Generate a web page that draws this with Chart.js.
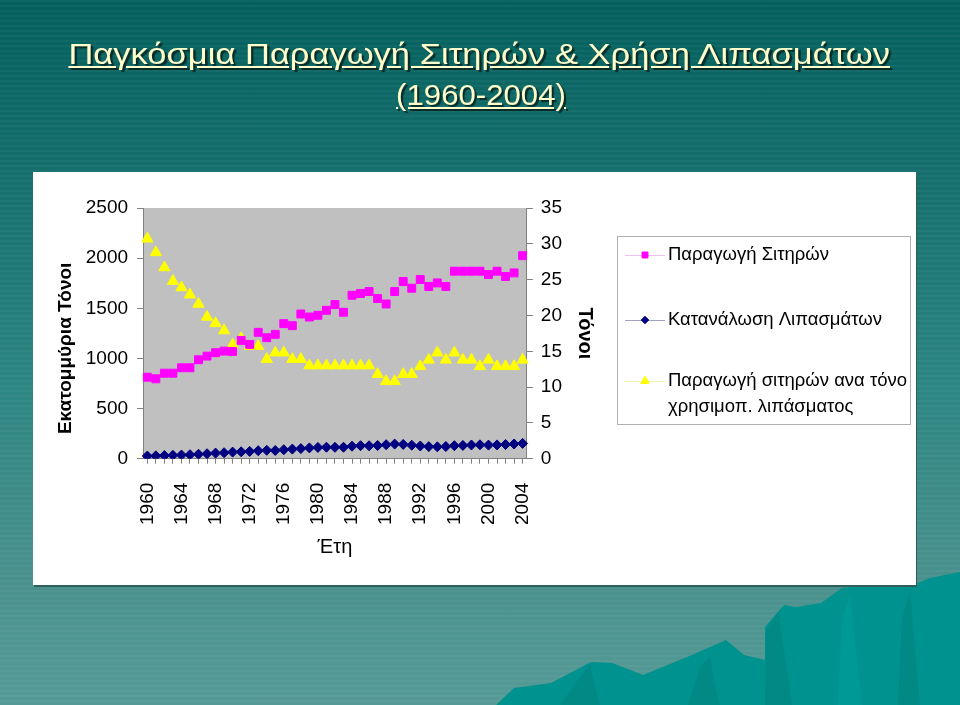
<!DOCTYPE html>
<html>
<head>
<meta charset="utf-8">
<script src="https://cdn.jsdelivr.net/npm/chart.js@4"></script>
<style>
  html, body { margin: 0; padding: 0; }
  body {
    width: 960px; height: 705px; position: relative; overflow: hidden;
    background:
      repeating-linear-gradient(180deg, rgba(255,255,255,0.035) 0px, rgba(255,255,255,0.035) 2px, rgba(0,0,0,0) 2px, rgba(0,0,0,0) 5px),
      linear-gradient(180deg, #03605d 0%, #166f6d 25%, #2d8683 55%, #4a918d 82%, #559a96 100%);
    font-family: "Liberation Sans", Arial, sans-serif;
  }
  .title {
    position: absolute; left: 0; top: 34px; width: 960px; text-align: center;
    color: #ffffcc; font-size: 29px; line-height: 41px;
  }
  .title span {
    display: inline-block; text-decoration: underline;
    text-shadow: 2px 2px 1px #0a2a28;
  }
  .hills { position: absolute; left: 0; top: 0; }
  .panel {
    position: absolute; left: 33px; top: 172px; width: 883px; height: 413px; background: #ffffff;
    box-shadow: 1px 2px 0 #2e5f5c;
  }
</style>
</head>
<body>
<svg class="hills" width="960" height="705">
  <polygon fill="#00928e" points="496,705 514,688 551,683 591,662 612,663 643,675 692,655 726,640 744,655 765,660 765,627 784,605 796,607 821,603 842,588 870,585 918,583 930,578 960,572 960,705"/>
  <polygon fill="#008985" points="560,705 575,684 590,664 596,690 600,705"/>
  <polygon fill="#008985" points="688,705 700,668 710,656 714,684 720,705"/>
  <polygon fill="#008985" points="765,705 766,630 778,612 784,650 792,705"/>
  <polygon fill="#009a96" points="838,705 842,620 850,596 856,650 862,705"/>
  <polygon fill="#008985" points="898,705 902,620 910,588 914,640 920,705"/>
</svg>
<div class="title">
  <div><span style="transform: scaleX(1.19); margin-left: -1px;">Παγκόσμια Παραγωγή Σιτηρών &amp; Χρήση Λιπασμάτων</span></div>
  <div><span style="transform: scaleX(1.075); margin-left: 2px;">(1960-2004)</span></div>
</div>
<div class="panel"><canvas id="chart" width="883" height="413"></canvas></div>
<script>
// years on the category axis
const years = ['1960','1961','1962','1963','1964','1965','1966','1967','1968','1969',
  '1970','1971','1972','1973','1974','1975','1976','1977','1978','1979',
  '1980','1981','1982','1983','1984','1985','1986','1987','1988','1989',
  '1990','1991','1992','1993','1994','1995','1996','1997','1998','1999',
  '2000','2001','2002','2003','2004'];

// grain production, million tonnes (left axis)
const grainProduction = [813, 797, 853, 853, 907, 907, 987, 1023, 1057, 1073,
  1070, 1180, 1140, 1260, 1207, 1240, 1347, 1327, 1443, 1413,
  1430, 1480, 1537, 1460, 1630, 1647, 1667, 1597, 1543, 1667,
  1767, 1700, 1787, 1717, 1753, 1717, 1870, 1870, 1870, 1870,
  1837, 1870, 1817, 1853, 2025];

// fertilizer use, million tonnes (left axis)
const fertilizerUse = [27, 29, 31, 34, 37, 40, 45, 50, 56, 60,
  66, 69, 73, 80, 84, 82, 90, 96, 101, 108,
  113, 115, 114, 115, 125, 130, 129, 132, 140, 146,
  143, 135, 127, 121, 119, 122, 130, 133, 137, 139,
  136, 138, 142, 147, 153];

// grain per tonne of fertilizer, tonnes (right axis)
const grainPerFertilizer = [30.7, 28.8, 26.7, 24.8, 23.9, 22.9, 21.6, 19.8, 18.9, 17.9,
  15.9, 16.8, 15.7, 15.7, 13.9, 14.8, 14.8, 13.9, 13.9, 13.0,
  13.0, 13.0, 13.0, 13.0, 13.0, 13.0, 13.0, 11.8, 10.8, 10.8,
  11.8, 11.8, 12.9, 13.8, 14.8, 13.8, 14.8, 13.8, 13.8, 12.9,
  13.8, 12.9, 12.9, 12.9, 13.8];

const seriesNames = ['Παραγωγή Σιτηρών', 'Κατανάλωση Λιπασμάτων',
  ['Παραγωγή σιτηρών ανα τόνο', 'χρησιμοπ. λιπάσματος']];
const leftTitle = 'Εκατομμύρια Τόνοι';

const FONT = '"Liberation Sans", Arial, sans-serif';

// grey plot background
const plotBg = {
  id: 'plotBg',
  beforeDraw(chart) {
    const a = chart.chartArea, ctx = chart.ctx;
    ctx.save();
    ctx.fillStyle = '#c0c0c0';
    ctx.fillRect(a.left, a.top, a.right - a.left, a.bottom - a.top);
    ctx.restore();
  }
};

// left axis title sits a bit below the middle of the axis, like excel did it
const leftAxisTitle = {
  id: 'leftAxisTitle',
  afterDraw(chart) {
    const a = chart.chartArea, ctx = chart.ctx;
    ctx.save();
    ctx.translate(33, (a.top + a.bottom) / 2 + 15);
    ctx.rotate(-Math.PI / 2);
    ctx.fillStyle = '#000000';
    ctx.font = 'bold 19px ' + FONT;
    ctx.textAlign = 'center';
    ctx.textBaseline = 'middle';
    ctx.fillText(leftTitle, 0, 0);
    ctx.restore();
  }
};

// excel style legend box on the right
const boxLegend = {
  id: 'boxLegend',
  afterDraw(chart) {
    const ctx = chart.ctx;
    const x0 = 584, y0 = 64, w = 293, h = 188;
    ctx.save();
    ctx.fillStyle = '#ffffff';
    ctx.strokeStyle = '#b0b0b0';
    ctx.lineWidth = 1;
    ctx.fillRect(x0, y0, w, h);
    ctx.strokeRect(x0 + 0.5, y0 + 0.5, w, h);
    const rows = [83, 148, 209];
    chart.data.datasets.forEach((ds, i) => {
      const y = rows[i];
      ctx.strokeStyle = ds.legendLine;
      ctx.lineWidth = 1;
      ctx.beginPath();
      ctx.moveTo(x0 + 8, y + 0.5);
      ctx.lineTo(x0 + 48, y + 0.5);
      ctx.stroke();
      ctx.fillStyle = ds.backgroundColor;
      ctx.strokeStyle = ds.borderColor;
      Chart.helpers.drawPoint(ctx, {
        pointStyle: ds.pointStyle, radius: ds.pointRadius * 0.75, borderWidth: 1
      }, x0 + 28, y);
      ctx.fillStyle = '#000000';
      ctx.font = '18.5px ' + FONT;
      ctx.textBaseline = 'middle';
      const lines = Array.isArray(ds.label) ? ds.label : [ds.label];
      lines.forEach((t, k) => ctx.fillText(t, x0 + 51, y + k * 26));
    });
    ctx.restore();
  }
};

new Chart(document.getElementById('chart').getContext('2d'), {
  type: 'line',
  data: {
    labels: years,
    datasets: [{
      label: seriesNames[0],
      data: grainProduction,
      yAxisID: 'y',
      showLine: false,
      pointStyle: 'rect',
      pointRadius: 5.6,
      backgroundColor: '#ff00ff',
      borderColor: '#ff00ff',
      borderWidth: 1,
      legendLine: '#f0c0f0'
    }, {
      label: seriesNames[1],
      data: fertilizerUse,
      yAxisID: 'y',
      showLine: false,
      pointStyle: 'rectRot',
      pointRadius: 5,
      backgroundColor: '#000080',
      borderColor: '#000080',
      borderWidth: 1,
      legendLine: '#a0a0c8'
    }, {
      label: seriesNames[2],
      data: grainPerFertilizer,
      yAxisID: 'y1',
      showLine: false,
      pointStyle: 'triangle',
      pointRadius: 6.5,
      backgroundColor: '#ffff00',
      borderColor: '#ffff00',
      borderWidth: 1,
      legendLine: '#f0f0b0'
    }]
  },
  options: {
    responsive: false,
    animation: false,
    layout: { padding: { left: 21, right: 308, top: 36, bottom: 26 } },
    plugins: { legend: { display: false }, tooltip: { enabled: false } },
    scales: {
      x: {
        offset: true,
        grid: { display: true, drawOnChartArea: false, drawTicks: true, tickLength: 5, color: '#808080', offset: false },
        border: { color: '#808080' },
        ticks: {
          autoSkip: false, maxRotation: 90, minRotation: 90, padding: 19,
          color: '#000000', font: { family: FONT, size: 19 },
          callback: function (v, i) { return i % 4 === 0 ? years[i] : ''; }
        },
        title: { display: true, text: 'Έτη', color: '#000000', font: { family: FONT, size: 20 }, padding: { top: -9, bottom: 0 } }
      },
      y: {
        position: 'left',
        min: 0, max: 2500,
        grid: { display: true, drawOnChartArea: false, drawTicks: true, tickLength: 6, color: '#808080' },
        border: { color: '#808080' },
        ticks: {
          stepSize: 500, padding: 9, color: '#000000', font: { family: FONT, size: 19 },
          callback: function (v) { return String(v); }
        },
        // space is kept here, the text itself is drawn by leftAxisTitle
        title: { display: true, text: leftTitle, color: 'rgba(0,0,0,0)', font: { family: FONT, size: 19, weight: 'bold' }, padding: { top: 0, bottom: 0 } }
      },
      y1: {
        position: 'right',
        min: 0, max: 35,
        grid: { display: true, drawOnChartArea: false, drawTicks: true, tickLength: 6, color: '#808080' },
        border: { color: '#808080' },
        ticks: { stepSize: 5, padding: 8, color: '#000000', font: { family: FONT, size: 19 } },
        title: { display: true, text: 'Τόνοι', color: '#000000', font: { family: FONT, size: 20, weight: 'bold' }, padding: { top: 11, bottom: 3 } }
      }
    }
  },
  plugins: [plotBg, leftAxisTitle, boxLegend]
});
</script>
</body>
</html>
